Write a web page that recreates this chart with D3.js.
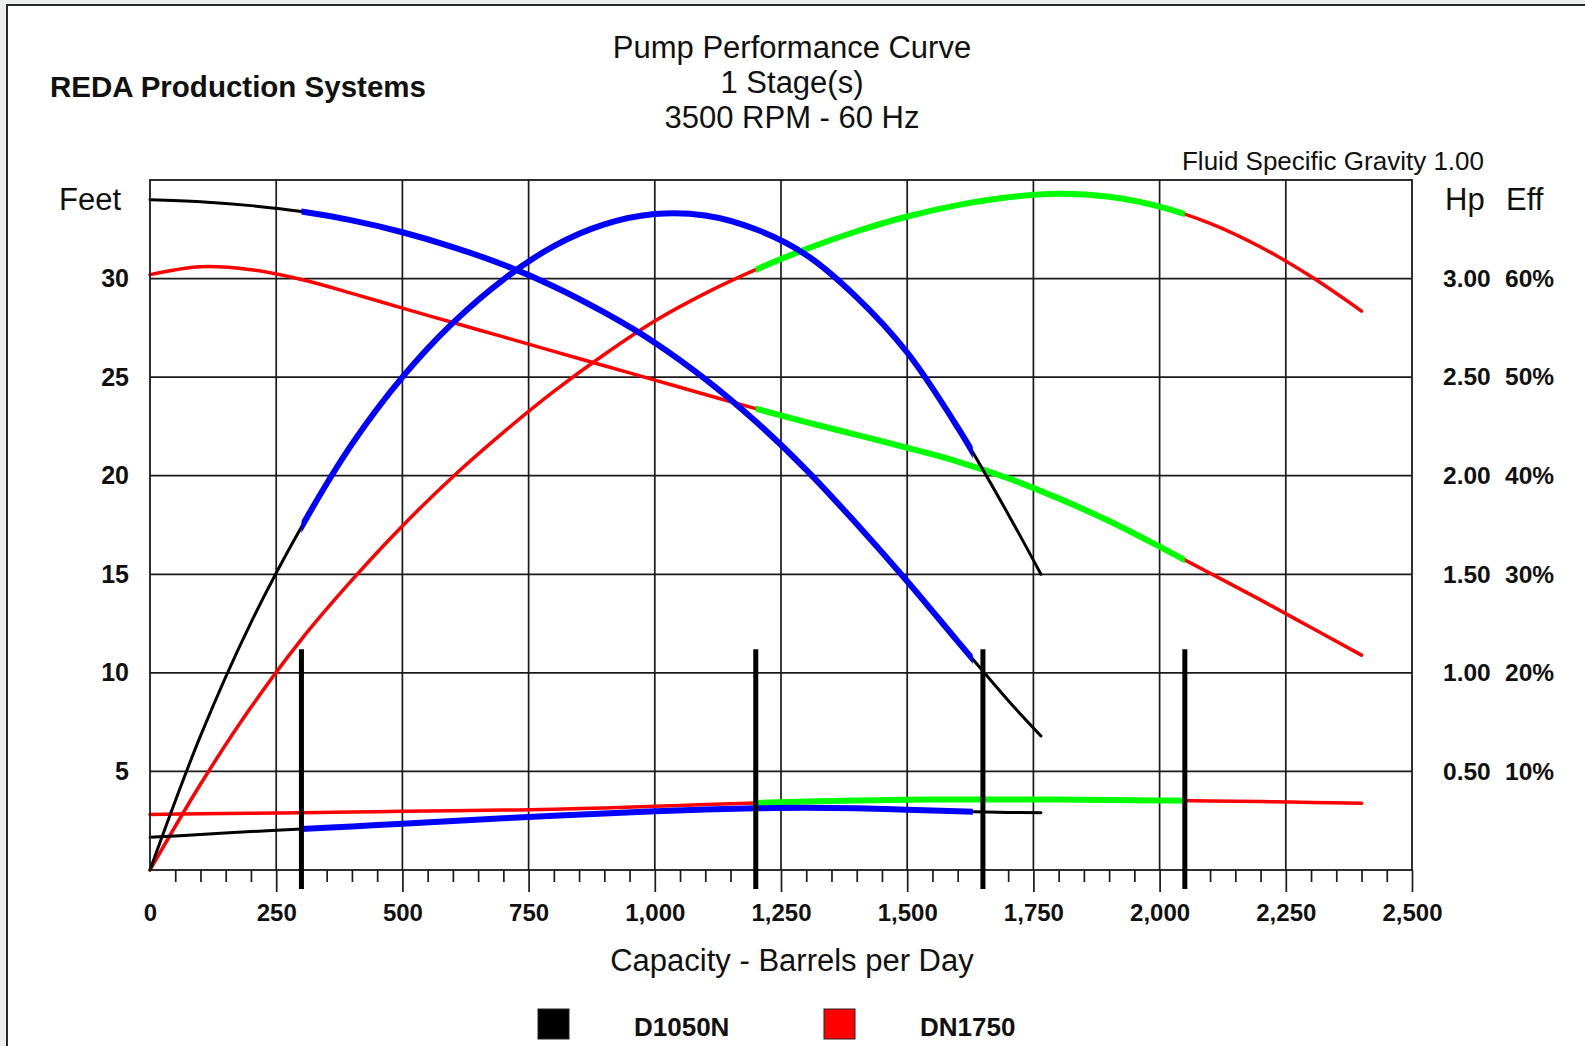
<!DOCTYPE html>
<html>
<head>
<meta charset="utf-8">
<script src="https://cdn.jsdelivr.net/npm/d3@7"></script>
<style>
html,body{margin:0;padding:0;background:#eceef0;}
svg{display:block;}
text{font-family:"Liberation Sans",Arial,sans-serif;fill:#111;}
</style>
</head>
<body>
<svg id="chart" width="1585" height="1046"></svg>
<script>
// ---------- data ----------
const titleLines = ["Pump Performance Curve", "1 Stage(s)", "3500 RPM - 60 Hz"];
const company = "REDA Production Systems";
const gravityNote = "Fluid Specific Gravity 1.00";
const xTitle = "Capacity - Barrels per Day";
const pumps = ["D1050N", "DN1750"];

const xTicks = [0, 250, 500, 750, 1000, 1250, 1500, 1750, 2000, 2250, 2500];
const feetTicks = [5, 10, 15, 20, 25, 30];
const hpTicks = [0.5, 1.0, 1.5, 2.0, 2.5, 3.0];
const effTicks = [10, 20, 30, 40, 50, 60];

// D1050N (bbl/d, feet, hp, %)
const qD1050N    = [0, 100, 200, 300, 400, 500, 600, 700, 800, 900, 1000, 1100, 1200, 1300, 1400, 1500, 1600, 1700, 1765];
const headD1050N = [34.0, 33.9, 33.7, 33.4, 32.95, 32.35, 31.6, 30.7, 29.6, 28.28, 26.75, 24.9, 22.75, 20.3, 17.55, 14.65, 11.6, 8.6, 6.8];
const hpD1050N   = [0.166, 0.18, 0.195, 0.208, 0.221, 0.234, 0.248, 0.262, 0.275, 0.287, 0.298, 0.307, 0.313, 0.316, 0.313, 0.306, 0.298, 0.292, 0.29];
const effD1050N  = [0, 13.6, 25.1, 34.8, 43.2, 50.0, 55.5, 59.9, 63.3, 65.5, 66.55, 66.4, 65.0, 62.4, 58.1, 52.5, 44.9, 36.1, 30.0];
const rangeD1050N = [300, 1630];

// DN1750
const qDN1750    = [0, 100, 200, 300, 400, 500, 600, 700, 800, 900, 1000, 1100, 1200, 1300, 1400, 1500, 1600, 1700, 1800, 1900, 2000, 2100, 2200, 2300, 2400];
const headDN1750 = [30.2, 30.6, 30.45, 29.95, 29.25, 28.5, 27.77, 27.04, 26.31, 25.58, 24.85, 24.12, 23.4, 22.72, 22.07, 21.42, 20.72, 19.87, 18.85, 17.7, 16.4, 15.05, 13.7, 12.3, 10.9];
const hpDN1750   = [0.282, 0.285, 0.288, 0.291, 0.294, 0.298, 0.301, 0.304, 0.308, 0.315, 0.323, 0.332, 0.34, 0.347, 0.352, 0.356, 0.358, 0.358, 0.357, 0.355, 0.353, 0.35, 0.347, 0.343, 0.338];
const effDN1750  = [0, 8.7, 16.5, 23.4, 29.4, 34.9, 39.9, 44.4, 48.55, 52.3, 55.7, 58.5, 60.9, 63.0, 64.8, 66.3, 67.45, 68.25, 68.6, 68.3, 67.3, 65.6, 63.2, 60.2, 56.7];
const rangeDN1750 = [1200, 2050];

const markerQ = [300, 1200, 1650, 2050];
const markerTopFeet = 11.2;

// ---------- layout ----------
const L = 150, R = 1412, T = 180, B = 870;
const svg = d3.select("#chart");
const FONT = '"Liberation Sans",Arial,sans-serif';

const x = d3.scaleLinear().domain([0, 2500]).range([L, R]);
const yFt = d3.scaleLinear().domain([0, 35]).range([B, T]);
const yHp = d3.scaleLinear().domain([0, 3.5]).range([B, T]);
const yEff = d3.scaleLinear().domain([0, 70]).range([B, T]);

// frame
svg.append("rect").attr("x", 7).attr("y", 5).attr("width", 1700).attr("height", 1200)
  .attr("fill", "#fff").attr("stroke", "#2a2a2a").attr("stroke-width", 2);

// titles
svg.selectAll("text.title").data(titleLines).join("text").attr("class", "title")
  .attr("x", 792).attr("y", (d, i) => 47 + i * 35).attr("dominant-baseline", "central")
  .attr("text-anchor", "middle").style("font-size", "31px").text(d => d);
svg.append("text").attr("x", 50).attr("y", 86).attr("dominant-baseline", "central")
  .style("font-size", "29.5px").style("font-weight", "bold").text(company);
svg.append("text").attr("x", 1484).attr("y", 161).attr("dominant-baseline", "central")
  .attr("text-anchor", "end").style("font-size", "26px").text(gravityNote);
svg.append("text").attr("x", 59).attr("y", 199).attr("dominant-baseline", "central")
  .style("font-size", "31px").text("Feet");
svg.append("text").attr("x", 1445).attr("y", 199).attr("dominant-baseline", "central")
  .style("font-size", "31px").text("Hp");
svg.append("text").attr("x", 1506).attr("y", 199).attr("dominant-baseline", "central")
  .style("font-size", "31px").text("Eff");

// grid
const g = svg.append("g");
g.selectAll("line.hg").data(feetTicks).join("line").attr("class", "hg")
  .attr("x1", L).attr("x2", R).attr("y1", d => yFt(d)).attr("y2", d => yFt(d))
  .attr("stroke", "#1a1a1a").attr("stroke-width", 1.7);
g.selectAll("line.vg").data(xTicks.slice(1, -1)).join("line").attr("class", "vg")
  .attr("x1", d => x(d)).attr("x2", d => x(d)).attr("y1", T).attr("y2", B)
  .attr("stroke", "#1a1a1a").attr("stroke-width", 1.7);

// x axis: major ticks + labels
const xAxisMajor = d3.axisBottom(x).tickValues(xTicks).tickFormat(d3.format(",")).tickSize(22).tickSizeOuter(0);
const gx = svg.append("g").attr("transform", `translate(0,${B})`).call(xAxisMajor);
gx.select(".domain").remove();
gx.selectAll(".tick line").attr("stroke", "#1a1a1a").attr("stroke-width", 1.7)
  .attr("display", d => d === 0 ? "none" : null);
gx.selectAll(".tick text").attr("y", 51).attr("dy", null).attr("fill", "#111")
  .style("font-family", FONT).style("font-size", "24px").style("font-weight", "bold");

// minor ticks
const minor = d3.range(50, 2500, 50).filter(v => v % 250 !== 0);
const xAxisMinor = d3.axisBottom(x).tickValues(minor).tickFormat("").tickSize(12).tickSizeOuter(0);
const gm = svg.append("g").attr("transform", `translate(0,${B})`).call(xAxisMinor);
gm.select(".domain").remove();
gm.selectAll(".tick line").attr("stroke", "#1a1a1a").attr("stroke-width", 1.7);

// left axis labels
const gl = svg.append("g").attr("transform", `translate(${L},0)`)
  .call(d3.axisLeft(yFt).tickValues(feetTicks).tickSize(0).tickPadding(21));
gl.select(".domain").remove();
gl.selectAll(".tick text").attr("fill", "#111").style("font-family", FONT)
  .style("font-size", "25px").style("font-weight", "bold");

// right axis labels: Hp and Eff
const gr1 = svg.append("g").attr("transform", `translate(1443,0)`)
  .call(d3.axisRight(yHp).tickValues(hpTicks).tickFormat(d3.format(".2f")).tickSize(0).tickPadding(0));
gr1.select(".domain").remove();
gr1.selectAll(".tick text").attr("fill", "#111").style("font-family", FONT)
  .style("font-size", "24.5px").style("font-weight", "bold");
const gr2 = svg.append("g").attr("transform", `translate(1505,0)`)
  .call(d3.axisRight(yEff).tickValues(effTicks).tickFormat(d => d + "%").tickSize(0).tickPadding(0));
gr2.select(".domain").remove();
gr2.selectAll(".tick text").attr("fill", "#111").style("font-family", FONT)
  .style("font-size", "24.5px").style("font-weight", "bold");

// x title
svg.append("text").attr("x", 792).attr("y", 960).attr("dominant-baseline", "central")
  .attr("text-anchor", "middle").style("font-size", "31px").text(xTitle);

// clip paths for recommended ranges
const defs = svg.append("defs");
defs.append("clipPath").attr("id", "clipA").append("rect")
  .attr("x", x(rangeD1050N[0])).attr("width", x(rangeD1050N[1]) - x(rangeD1050N[0]))
  .attr("y", 0).attr("height", 1046);
defs.append("clipPath").attr("id", "clipB").append("rect")
  .attr("x", x(rangeDN1750[0])).attr("width", x(rangeDN1750[1]) - x(rangeDN1750[0]))
  .attr("y", 0).attr("height", 1046);

function series(qs, vs) { return qs.map((q, i) => ({ q: q, v: vs[i] })); }
function draw(qs, vs, yScale, baseColor, baseW, hiColor, hiW, clipId) {
  const line = d3.line().x(d => x(d.q)).y(d => yScale(d.v)).curve(d3.curveCatmullRom.alpha(0.5));
  const data = series(qs, vs);
  const cg = svg.append("g");
  cg.append("path").attr("d", line(data)).attr("fill", "none").attr("stroke", baseColor)
    .attr("stroke-width", baseW).attr("stroke-linejoin", "round").attr("stroke-linecap", "round");
  cg.append("path").attr("d", line(data)).attr("fill", "none").attr("stroke", hiColor)
    .attr("stroke-width", hiW).attr("stroke-linejoin", "round").attr("clip-path", `url(#${clipId})`);
}

// DN1750 (red / green)
draw(qDN1750, headDN1750, yFt, "#ff0000", 3.5, "#00ff00", 6, "clipB");
draw(qDN1750, effDN1750, yEff, "#ff0000", 3.5, "#00ff00", 6, "clipB");
draw(qDN1750, hpDN1750, yHp, "#ff0000", 3.5, "#00ff00", 6, "clipB");
// D1050N (black / blue)
draw(qD1050N, headD1050N, yFt, "#000000", 3, "#0000ff", 6, "clipA");
draw(qD1050N, effD1050N, yEff, "#000000", 3, "#0000ff", 6, "clipA");
draw(qD1050N, hpD1050N, yHp, "#000000", 3, "#0000ff", 6, "clipA");

// plot border
svg.append("rect").attr("x", L).attr("y", T).attr("width", R - L).attr("height", B - T)
  .attr("fill", "none").attr("stroke", "#1a1a1a").attr("stroke-width", 1.8);

// range markers
svg.selectAll("line.mk").data(markerQ).join("line").attr("class", "mk")
  .attr("x1", d => x(d)).attr("x2", d => x(d)).attr("y1", yFt(markerTopFeet)).attr("y2", B + 19)
  .attr("stroke", "#000").attr("stroke-width", 5);

// legend
const legendColors = ["#000000", "#ff0000"];
const lg = svg.selectAll("g.lg").data(pumps).join("g").attr("class", "lg")
  .attr("transform", (d, i) => `translate(${538 + i * 286},1009)`);
lg.append("rect").attr("width", 31).attr("height", 30).attr("fill", (d, i) => legendColors[i])
  .attr("stroke", "#222").attr("stroke-width", 1);
lg.append("text").attr("x", 96).attr("y", 18).attr("dominant-baseline", "central")
  .style("font-size", "26px").style("font-weight", "bold").text(d => d);
</script>
</body>
</html>
